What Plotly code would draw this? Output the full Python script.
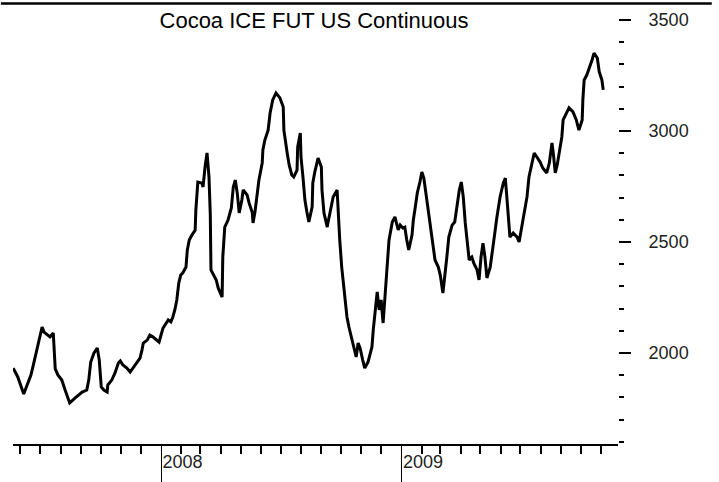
import plotly.graph_objects as go

title_text = "Cocoa ICE FUT US Continuous"

dates = [
    "2007-05-21", "2007-05-28", "2007-06-06", "2007-06-11", "2007-06-17", "2007-06-20",
    "2007-06-25", "2007-06-28", "2007-07-01", "2007-07-04", "2007-07-07", "2007-07-11",
    "2007-07-16", "2007-07-21", "2007-07-22", "2007-07-24", "2007-07-28", "2007-08-03",
    "2007-08-08", "2007-08-15", "2007-08-23", "2007-09-03", "2007-09-10", "2007-09-13",
    "2007-09-16", "2007-09-21", "2007-09-26", "2007-09-29", "2007-10-02", "2007-10-06",
    "2007-10-11", "2007-10-12", "2007-10-18", "2007-10-23", "2007-10-28", "2007-10-31",
    "2007-11-04", "2007-11-10", "2007-11-15", "2007-11-19", "2007-11-25", "2007-11-30",
    "2007-12-03", "2007-12-05", "2007-12-11", "2007-12-15", "2007-12-20", "2007-12-26",
    "2007-12-29", "2008-01-01", "2008-01-04", "2008-01-09", "2008-01-12", "2008-01-16",
    "2008-01-19", "2008-01-22", "2008-01-25", "2008-01-28", "2008-01-31", "2008-02-03",
    "2008-02-08", "2008-02-10", "2008-02-13", "2008-02-17", "2008-02-22", "2008-02-23",
    "2008-02-25", "2008-02-26", "2008-03-03", "2008-03-05", "2008-03-08", "2008-03-11",
    "2008-03-14", "2008-03-16", "2008-03-17", "2008-03-20", "2008-03-25", "2008-03-28",
    "2008-04-01", "2008-04-03", "2008-04-04", "2008-04-07", "2008-04-12", "2008-04-17",
    "2008-04-20", "2008-04-23", "2008-04-26", "2008-04-29", "2008-05-03", "2008-05-05",
    "2008-05-11", "2008-05-14", "2008-05-19", "2008-05-20", "2008-05-23", "2008-05-26",
    "2008-05-29", "2008-06-03", "2008-06-04", "2008-06-07", "2008-06-12", "2008-06-15",
    "2008-06-19", "2008-06-24", "2008-06-30", "2008-07-05", "2008-07-06", "2008-07-11",
    "2008-07-14", "2008-07-18", "2008-07-21", "2008-07-26", "2008-07-27", "2008-07-31",
    "2008-08-01", "2008-08-04", "2008-08-07", "2008-08-10", "2008-08-13", "2008-08-18",
    "2008-08-19", "2008-08-22", "2008-08-27", "2008-09-01", "2008-09-02", "2008-09-05",
    "2008-09-10", "2008-09-11", "2008-09-16", "2008-09-19", "2008-09-25", "2008-09-26",
    "2008-09-29", "2008-10-02", "2008-10-06", "2008-10-10", "2008-10-13", "2008-10-18",
    "2008-10-21", "2008-10-24", "2008-10-27", "2008-10-30", "2008-11-03", "2008-11-06",
    "2008-11-11", "2008-11-17", "2008-11-19", "2008-11-22", "2008-11-25", "2008-11-28",
    "2008-12-01", "2008-12-04", "2008-12-07", "2008-12-10", "2008-12-13", "2008-12-18",
    "2008-12-22", "2008-12-27", "2008-12-30", "2009-01-03", "2009-01-06", "2009-01-09",
    "2009-01-12", "2009-01-17", "2009-01-19", "2009-01-22", "2009-01-25", "2009-01-29",
    "2009-02-01", "2009-02-04", "2009-02-07", "2009-02-10", "2009-02-15", "2009-02-18",
    "2009-02-21", "2009-02-26", "2009-03-01", "2009-03-05", "2009-03-08", "2009-03-11",
    "2009-03-14", "2009-03-19", "2009-03-23", "2009-03-26", "2009-03-30", "2009-04-02",
    "2009-04-05", "2009-04-08", "2009-04-11", "2009-04-14", "2009-04-18", "2009-04-21",
    "2009-04-26", "2009-04-29", "2009-05-02", "2009-05-05", "2009-05-08", "2009-05-11",
    "2009-05-16", "2009-05-20", "2009-05-23", "2009-05-26", "2009-05-31", "2009-06-05",
    "2009-06-08", "2009-06-11", "2009-06-12", "2009-06-15", "2009-06-20", "2009-06-26",
    "2009-06-29", "2009-07-03", "2009-07-06", "2009-07-11", "2009-07-14", "2009-07-19",
    "2009-07-22", "2009-07-26", "2009-07-31", "2009-08-04", "2009-08-10", "2009-08-14",
    "2009-08-18", "2009-08-20", "2009-08-23", "2009-08-26", "2009-08-29", "2009-09-02",
    "2009-09-04", "2009-09-08", "2009-09-13", "2009-09-19", "2009-09-24", "2009-09-28",
    "2009-10-03", "2009-10-04", "2009-10-06", "2009-10-10", "2009-10-13", "2009-10-18",
    "2009-10-21", "2009-10-26", "2009-10-29", "2009-11-02", "2009-11-04",
]

prices = [
    1932, 1892, 1815, 1856, 1901, 1937,
    2000, 2045, 2090, 2117, 2094, 2085,
    2072, 2090, 2013, 1928, 1901, 1878,
    1833, 1775, 1797, 1824, 1833, 1878,
    1959, 2000, 2022, 1968, 1847, 1833,
    1824, 1856, 1878, 1910, 1955, 1964,
    1946, 1932, 1914, 1932, 1955, 1977,
    2013, 2045, 2058, 2081, 2072, 2058,
    2049, 2081, 2112, 2135, 2149, 2140,
    2162, 2194, 2239, 2315, 2351, 2360,
    2387, 2464, 2509, 2531, 2554, 2644,
    2748, 2770, 2766, 2748, 2838, 2901,
    2793, 2622, 2374, 2356, 2329, 2293,
    2270, 2252, 2432, 2567, 2599, 2653,
    2748, 2779, 2721, 2631, 2689, 2734,
    2712, 2676, 2631, 2586, 2635, 2698,
    2779, 2856, 2914, 2959, 3004, 3081,
    3140, 3171, 3149, 3108, 3004, 2901,
    2847, 2802, 2793, 2824, 2928, 2991,
    2883, 2793, 2689, 2635, 2590, 2658,
    2766, 2815, 2878, 2838, 2734, 2631,
    2567, 2586, 2658, 2703, 2734, 2658,
    2509, 2387, 2270, 2162, 2117, 2058,
    2013, 1982, 2045, 2022, 1968, 1932,
    1959, 2027, 2103, 2207, 2275, 2194,
    2239, 2135, 2252, 2387, 2509, 2590,
    2613, 2554, 2576, 2563, 2567, 2509,
    2464, 2531, 2599, 2658, 2721, 2770,
    2815, 2788, 2721, 2644, 2554, 2464,
    2419, 2387, 2351, 2270, 2342, 2432,
    2522, 2576, 2590, 2658, 2734, 2770,
    2703, 2586, 2495, 2419, 2432, 2405,
    2374, 2329, 2432, 2495, 2432, 2338,
    2387, 2464, 2540, 2608, 2703, 2766,
    2788, 2676, 2644, 2522, 2540, 2522,
    2500, 2567, 2631, 2703, 2793, 2860,
    2901, 2883, 2860, 2833, 2811, 2856,
    2946, 2901, 2811, 2847, 2901, 2973,
    3050, 3072, 3104, 3086, 3050, 3004,
    3050, 3140, 3230, 3252, 3275, 3320,
    3351, 3329, 3266, 3230, 3185,
]

x_range = ["2007-05-20 17:00", "2009-11-26 12:00"]
y_range = [1590, 3545]

fig = go.Figure()
fig.add_trace(go.Scatter(
    x=dates, y=prices, mode="lines",
    line=dict(color="black", width=3),
    showlegend=False, hoverinfo="skip",
))

W, H = 719, 482
ml, mr, mt, mb = 13, 101, 10, 38
pw, ph = W - ml - mr, H - mt - mb

fig.update_layout(
    width=W, height=H,
    margin=dict(l=ml, r=mr, t=mt, b=mb, pad=0, autoexpand=False),
    paper_bgcolor="white", plot_bgcolor="white",
    font=dict(family="Liberation Sans, Arial, sans-serif", color="#222222"),
    title=dict(
        text=title_text,
        x=314 / W, xanchor="center",
        y=1 - 20 / H, yanchor="middle",
        automargin=False,
        font=dict(size=22, color="black", family="Liberation Sans, Arial, sans-serif"),
    ),
    xaxis=dict(
        type="date", range=x_range, automargin=False,
        showgrid=False, zeroline=False,
        showline=True, linecolor="black", linewidth=2,
        ticks="outside", ticklen=38, tickwidth=1, tickcolor="black",
        tick0="2008-01-01", dtick="M12", tickformat="%Y",
        ticklabelposition="outside right",
        tickfont=dict(size=18, color="#222222"),
        minor=dict(ticks="outside", dtick="M1", tick0="2008-01-01",
                   ticklen=8, tickwidth=1.5, tickcolor="black", showgrid=False),
    ),
    yaxis=dict(
        range=y_range, side="right", automargin=False,
        showgrid=False, zeroline=False, showline=False,
        ticks="outside", ticklen=12, tickwidth=2, tickcolor="black",
        tick0=0, dtick=500,
        ticklabelstandoff=14,
        tickfont=dict(size=18, color="#222222"),
        minor=dict(ticks="outside", dtick=100, tick0=0,
                   ticklen=5, tickwidth=2, tickcolor="black", showgrid=False),
    ),
)

fig.add_shape(
    type="line", xref="paper", yref="paper",
    x0=-0.02, x1=1.155,
    y0=1.015, y1=1.015,
    line=dict(color="black", width=2.5),
)

fig.write_html(
    "out.html",
    config={"displayModeBar": False},
    post_script="document.body.style.margin='0';",
)
